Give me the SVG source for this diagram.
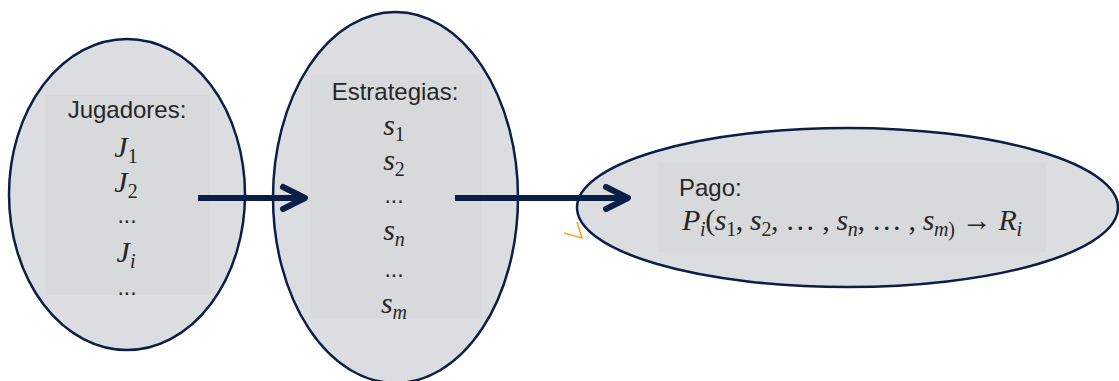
<svg xmlns="http://www.w3.org/2000/svg" width="1119" height="381" viewBox="0 0 1119 381">
  <defs>
    <style>
      .oval{fill:#DCDDE0;stroke:#0B1E48;stroke-width:2.5}
      .panel{fill:#D8D9DB}
      .lbl{font-family:"Liberation Sans",Arial,sans-serif;font-size:24px;fill:#262626}
      .mid{text-anchor:middle}
      .math{font-family:"Liberation Serif","Times New Roman",serif;font-style:italic;font-size:30px;fill:#262626}
      .up{font-style:normal}
      .sub{font-size:20px}
      .dots{font-family:"Liberation Sans",Arial,sans-serif;font-size:23px;fill:#262626;text-anchor:middle}
      .link{stroke:#0B1E48;stroke-width:6;fill:none;stroke-linecap:butt}
      .head{stroke:#0B1E48;stroke-width:6;fill:none;stroke-linecap:round;stroke-linejoin:round}
    </style>
    <marker id="chev" markerUnits="userSpaceOnUse" markerWidth="32" markerHeight="32" viewBox="0 0 32 32" refX="26" refY="16" orient="auto" overflow="visible">
      <path class="head" d="M4 5 L26 16 L4 27"/>
    </marker>
  </defs>

  <!-- Players -->
  <g id="jugadores">
    <ellipse class="oval" cx="127" cy="194.5" rx="118" ry="155.5"/>
    <rect class="panel" x="45" y="95" width="165" height="200"/>
    <text class="lbl mid" x="127" y="118">Jugadores:</text>
    <text class="math mid" x="126" y="157">J<tspan class="sub up" dy="6">1</tspan></text>
    <text class="math mid" x="126" y="192">J<tspan class="sub up" dy="6">2</tspan></text>
    <text class="dots" x="127" y="223">...</text>
    <text class="math mid" x="126" y="262">J<tspan class="sub" dy="6">i</tspan></text>
    <text class="dots" x="127" y="295">...</text>
  </g>

  <!-- Strategies -->
  <g id="estrategias">
    <ellipse class="oval" cx="395.5" cy="197.5" rx="122.5" ry="185.5"/>
    <rect class="panel" x="310" y="75" width="171" height="243"/>
    <text class="lbl mid" x="395" y="100">Estrategias:</text>
    <text class="math mid" x="394" y="135">s<tspan class="sub up" dy="6">1</tspan></text>
    <text class="math mid" x="394" y="170">s<tspan class="sub up" dy="6">2</tspan></text>
    <text class="dots" x="394" y="203">...</text>
    <text class="math mid" x="394" y="240">s<tspan class="sub" dy="6">n</tspan></text>
    <text class="dots" x="394" y="277">...</text>
    <text class="math mid" x="394" y="313">s<tspan class="sub" dy="6">m</tspan></text>
  </g>

  <!-- Payoff -->
  <g id="pago">
    <ellipse class="oval" cx="847.5" cy="207.5" rx="270.5" ry="79.5"/>
    <rect class="panel" x="659" y="163" width="387" height="89"/>
    <text class="lbl" x="679" y="196">Pago:</text>
    <text class="math" x="682" y="230" textLength="340" lengthAdjust="spacing">P<tspan class="sub" dy="6">i</tspan><tspan class="up" dy="-6">(</tspan>s<tspan class="sub up" dy="6">1</tspan><tspan class="up" dy="-6">, </tspan>s<tspan class="sub up" dy="6">2</tspan><tspan class="up" dy="-6">, … , </tspan>s<tspan class="sub" dy="6">n</tspan><tspan class="up" dy="-6">, … , </tspan>s<tspan class="sub" dy="6">m<tspan class="up">)</tspan></tspan><tspan class="up" dy="-6"> → </tspan>R<tspan class="sub" dy="6">i</tspan></text>
  </g>

  <!-- Connectors -->
  <g id="connectors">
    <line class="link" x1="198" y1="198" x2="305" y2="198" marker-end="url(#chev)"/>
    <line class="link" x1="455" y1="198" x2="628" y2="198" marker-end="url(#chev)"/>
  </g>

  <!-- small orange tick left of the payoff oval -->
  <polyline points="564,233 582,238 577,222" fill="none" stroke="#F2A12B" stroke-width="1.5"/>
</svg>
